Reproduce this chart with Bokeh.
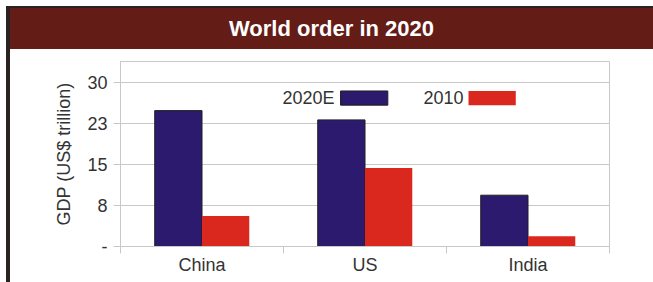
from bokeh.plotting import figure
from bokeh.models import (Range1d, FixedTicker, Label, BoxAnnotation, ColumnDataSource, Div)
from bokeh.transform import dodge
from bokeh.layouts import row, column
from bokeh.embed import file_html
from bokeh.resources import INLINE

# ---- data ----
countries = ["China", "US", "India"]
gdp_2020e = [24.9, 23.2, 9.4]
gdp_2010 = [5.6, 14.4, 1.9]
series_names = ["2020E", "2010"]
y_tick_values = [0, 7.5, 15, 22.5, 30]
y_tick_labels = ["-", "8", "15", "23", "30"]
title_text = "World order in 2020"
y_axis_title = "GDP (US$ trillion)"

# ---- styles ----
FONT = "Liberation Sans"
DARK = "#2a2220"
BAND = "#641c17"
NAVY = "#2b1a6e"
RED = "#da281e"
GRID = "#c8c8c8"
TEXT = "#333333"

# left dark stripe
stripe = Div(text="", width=4, height=276, margin=0,
             styles={"background-color": DARK})

# header band with thin dark top line
header = Div(text=title_text, width=643, height=43, margin=0,
             styles={"background": f"linear-gradient({DARK} 0px, {DARK} 2px, {BAND} 2px, {BAND} 100%)",
                     "color": "white", "font-family": FONT, "font-weight": "bold",
                     "font-size": "22px", "text-align": "center", "line-height": "45px"})

# main chart (category slots on a numeric axis: slot i spans [i, i+1])
n = len(countries)
centers = [i + 0.5 for i in range(n)]
src = ColumnDataSource(dict(pos=centers, country=countries, e=gdp_2020e, b=gdp_2010))
p = figure(width=643, height=233, x_range=Range1d(0, n),
           y_range=Range1d(0, 33.9),
           toolbar_location=None, output_backend="svg",
           min_border_left=110, min_border_right=44, min_border_top=12,
           min_border_bottom=36, margin=0)
p.background_fill_color = "white"
p.border_fill_color = "white"
p.outline_line_color = GRID

p.vbar(x=dodge("pos", -0.145), top="e", width=0.29, source=src,
       fill_color=NAVY, line_color="#231f20", line_width=1)
p.vbar(x=dodge("pos", 0.145), top="b", width=0.29, source=src,
       fill_color=RED, line_color=None)

# y axis
p.yaxis.ticker = FixedTicker(ticks=y_tick_values)
p.yaxis.major_label_overrides = dict(zip(y_tick_values, y_tick_labels))
p.yaxis.major_tick_out = 7
p.yaxis.major_tick_in = 0
p.yaxis.minor_tick_line_color = None
p.yaxis.major_tick_line_color = GRID
p.yaxis.axis_line_color = GRID
p.yaxis.major_label_standoff = 6
p.yaxis.major_label_text_font = FONT
p.yaxis.major_label_text_font_size = "18px"
p.yaxis.major_label_text_color = TEXT
p.yaxis.axis_label = y_axis_title
p.yaxis.axis_label_text_font = FONT
p.yaxis.axis_label_text_font_style = "normal"
p.yaxis.axis_label_text_font_size = "18px"
p.yaxis.axis_label_text_color = TEXT
p.yaxis.axis_label_standoff = 10

p.ygrid.grid_line_color = GRID
p.xgrid.visible = False

# x axis: boundary ticks (minor) and category labels (major)
p.xaxis.ticker = FixedTicker(ticks=centers, minor_ticks=list(range(n + 1)))
p.xaxis.major_label_overrides = dict(zip(centers, countries))
p.xaxis.major_tick_line_color = None
p.xaxis.major_tick_out = 5
p.xaxis.major_tick_in = 0
p.xaxis.minor_tick_out = 7
p.xaxis.minor_tick_in = 0
p.xaxis.minor_tick_line_color = GRID
p.xaxis.axis_line_color = GRID
p.xaxis.major_label_standoff = 1
p.xaxis.major_label_text_font = FONT
p.xaxis.major_label_text_font_size = "18px"
p.xaxis.major_label_text_color = TEXT

# legend (label to the left of its swatch)
colors = [NAVY, RED]
outlines = ["#231f20", None]
label_x = [1.313, 2.104]
box_l = [1.35, 2.135]
for name, c, lc, lx, bl in zip(series_names, colors, outlines, label_x, box_l):
    p.add_layout(Label(x=lx, y=27.25, text=name, text_align="right",
                       text_baseline="middle", text_font=FONT, text_font_size="18px",
                       text_color=TEXT))
    p.add_layout(BoxAnnotation(left=bl, right=bl + 0.29, bottom=25.9, top=28.5,
                               fill_color=c, fill_alpha=1.0, line_color=lc,
                               line_alpha=1.0, line_width=1))

layout = row(stripe, column(header, p, spacing=0), spacing=0, margin=(6, 0, 0, 6))
open("out.html", "w").write(file_html(layout, INLINE))
